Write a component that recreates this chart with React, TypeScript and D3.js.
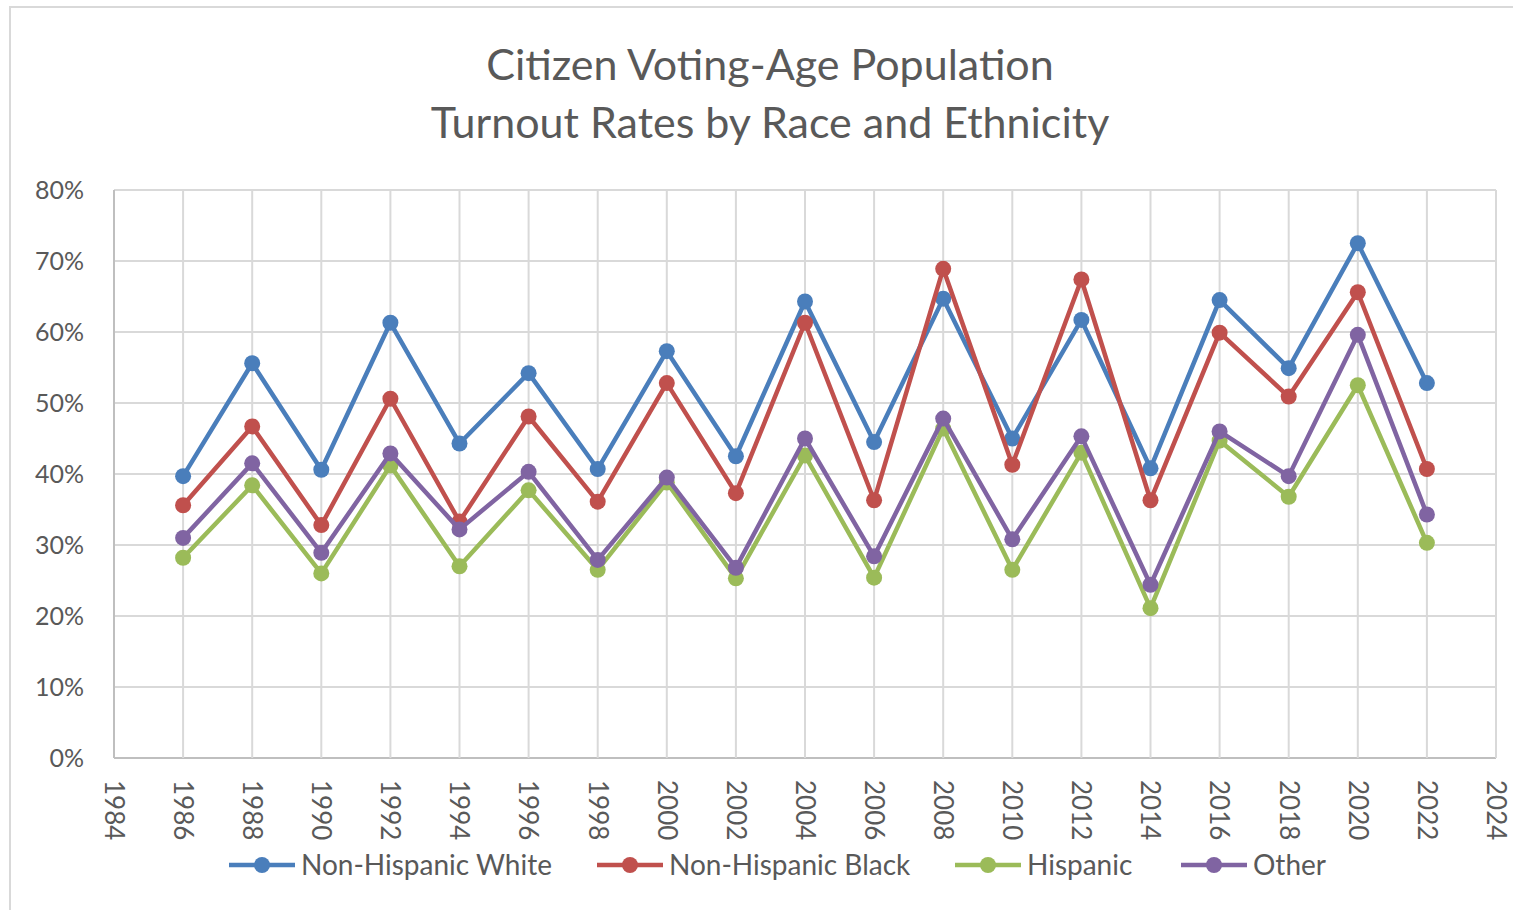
import React from 'react';
import * as d3 from 'd3';

const years = [1986, 1988, 1990, 1992, 1994, 1996, 1998, 2000, 2002, 2004, 2006, 2008, 2010, 2012, 2014, 2016, 2018, 2020, 2022];
const white = [39.7, 55.6, 40.6, 61.3, 44.3, 54.2, 40.7, 57.3, 42.5, 64.3, 44.5, 64.7, 45.0, 61.7, 40.8, 64.5, 54.9, 72.5, 52.8];
const black = [35.6, 46.7, 32.8, 50.6, 33.3, 48.1, 36.1, 52.8, 37.3, 61.3, 36.3, 68.9, 41.3, 67.4, 36.3, 59.9, 50.9, 65.6, 40.7];
const hispanic = [28.2, 38.4, 26.0, 41.2, 27.0, 37.7, 26.5, 38.8, 25.3, 42.6, 25.4, 46.4, 26.5, 43.0, 21.1, 44.7, 36.8, 52.5, 30.3];
const other = [31.0, 41.5, 28.9, 42.9, 32.2, 40.3, 27.9, 39.5, 26.8, 45.0, 28.4, 47.8, 30.8, 45.3, 24.4, 46.0, 39.7, 59.6, 34.3];

const seriesNames = ['Non-Hispanic White', 'Non-Hispanic Black', 'Hispanic', 'Other'];
const seriesColors = ['#4a7ebb', '#c0504d', '#9bbb59', '#8064a2'];
const tickYears = d3.range(1984, 2025, 2);
const yTicks = [0, 10, 20, 30, 40, 50, 60, 70, 80];
const titleLines = ['Citizen Voting-Age Population', 'Turnout Rates by Race and Ethnicity'];

const W = 1513;
const H = 910;
const font = 'Lato, "Open Sans", sans-serif';
const textColor = '#595959';

export default function App() {
  const x = d3.scaleLinear().domain([1984, 2024]).range([114, 1496]);
  const y = d3.scaleLinear().domain([0, 80]).range([758, 190]);
  const all = [white, black, hispanic, other];
  const line = d3.line<number>()
    .x((d, i) => x(years[i]))
    .y((d) => y(d));

  // legend layout
  const legendX = [229, 597, 955, 1181];
  const legendY = 865;

  return (
    <svg width={W} height={H} style={{position: 'absolute', left: 0, top: 0, background: '#fff'}}>
      <rect x={10} y={7} width={W + 20} height={H + 20} fill="#fff" stroke="#d9d9d9" strokeWidth={2} />

      {titleLines.map((t, i) => (
        <text key={t} x={770} y={80 + i * 58} textAnchor="middle" fontFamily={font}
          fontSize={43} fill={textColor}>{t}</text>
      ))}

      {/* grid */}
      {yTicks.map((v) => (
        <line key={'h' + v} x1={x(1984)} x2={x(2024)} y1={y(v)} y2={y(v)}
          stroke={v === 0 ? '#bfbfbf' : '#d9d9d9'} strokeWidth={2} />
      ))}
      {tickYears.map((yr) => (
        <line key={'v' + yr} x1={x(yr)} x2={x(yr)} y1={y(80)} y2={y(0)}
          stroke={yr === 1984 ? '#bfbfbf' : '#d9d9d9'} strokeWidth={2} />
      ))}

      {/* y labels */}
      {yTicks.map((v) => (
        <text key={'yl' + v} x={84} y={y(v)} dy="0.35em" textAnchor="end" fontFamily={font}
          fontSize={25} fill={textColor}>{v + '%'}</text>
      ))}

      {/* x labels */}
      {tickYears.map((yr) => (
        <text key={'xl' + yr} transform={`translate(${x(yr)},780) rotate(90)`} dy="0.35em"
          fontFamily={font} fontSize={26} fill={textColor}>{yr}</text>
      ))}

      {/* series */}
      {all.map((s, k) => (
        <g key={seriesNames[k]}>
          <path d={line(s) || ''} fill="none" stroke={seriesColors[k]} strokeWidth={4.5}
            strokeLinejoin="round" />
          {s.map((v, i) => (
            <circle key={i} cx={x(years[i])} cy={y(v)} r={8} fill={seriesColors[k]} />
          ))}
        </g>
      ))}

      {/* legend */}
      {seriesNames.map((n, k) => (
        <g key={'lg' + n} transform={`translate(${legendX[k]},${legendY})`}>
          <line x1={0} x2={66} y1={0} y2={0} stroke={seriesColors[k]} strokeWidth={4.5} />
          <circle cx={33} cy={0} r={8} fill={seriesColors[k]} />
          <text x={72} y={0} dy="0.35em" fontFamily={font} fontSize={28} fill={textColor}>{n}</text>
        </g>
      ))}
    </svg>
  );
}
